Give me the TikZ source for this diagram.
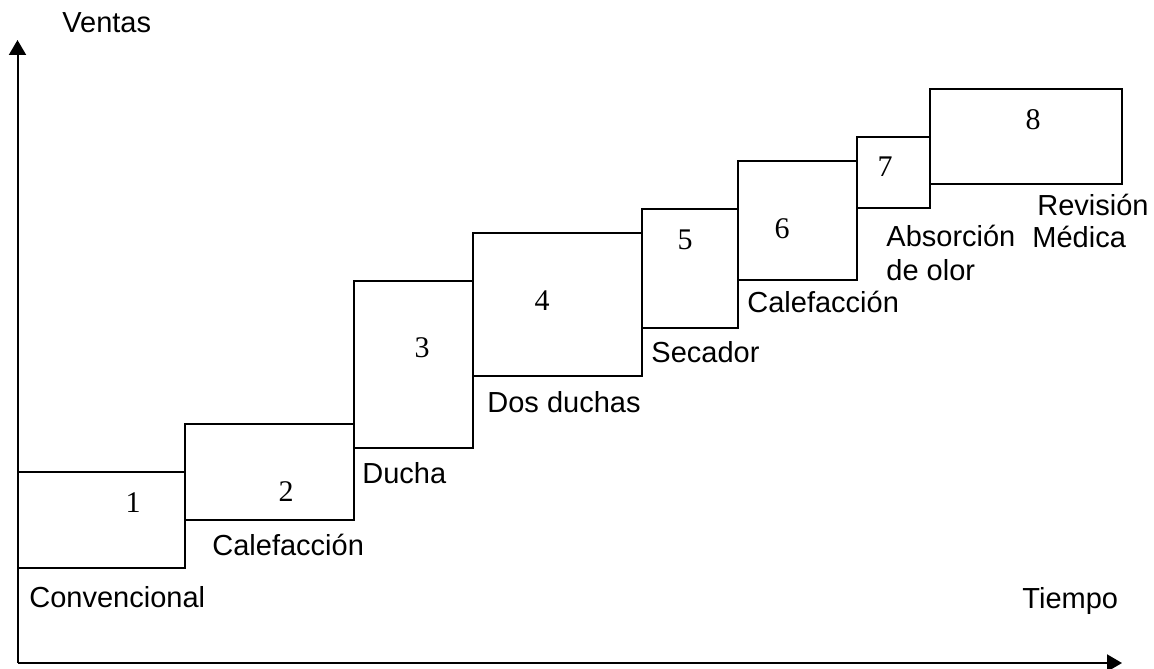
\documentclass[tikz,border=0pt]{standalone}
\usepackage{fontspec}
\setmainfont{Liberation Sans}
\newfontfamily\numfont{Liberation Serif}
\usetikzlibrary{arrows.meta}
\begin{document}
\begin{tikzpicture}[x=0.5pt,y=-0.5pt,
  stepbox/.style={draw=black,line width=1pt},
  axisline/.style={line width=1pt,-{Triangle[width=8.5pt,length=7.5pt]}},
  lbl/.style={anchor=base west,inner sep=0pt,font=\fontsize{14.5}{17}\selectfont},
  num/.style={anchor=center,inner sep=0pt,font=\numfont\fontsize{15}{18}\selectfont}]
\useasboundingbox (0,0) rectangle (1154,668);
% axes
\coordinate (O) at (17.5,663);
\coordinate (Ytip) at (17.5,40);
\coordinate (Xtip) at (1122,663);
\draw[axisline] (O) -- (Ytip);
\draw[axisline] (O) -- (Xtip);
% boxes
\draw[stepbox] (17.5,472) coordinate (b1a) rectangle (185,568) coordinate (b1b);
\draw[stepbox] (185,424) coordinate (b2a) rectangle (353.5,520) coordinate (b2b);
\draw[stepbox] (353.5,281) coordinate (b3a) rectangle (473,448) coordinate (b3b);
\draw[stepbox] (473,233) coordinate (b4a) rectangle (642,376) coordinate (b4b);
\draw[stepbox] (642,209) coordinate (b5a) rectangle (737.5,328) coordinate (b5b);
\draw[stepbox] (737.5,161) coordinate (b6a) rectangle (857,280) coordinate (b6b);
\draw[stepbox] (857,137) coordinate (b7a) rectangle (929.5,208) coordinate (b7b);
\draw[stepbox] (929.5,89) coordinate (b8a) rectangle (1122,184) coordinate (b8b);
% numbers
\node[num] (n1) at (133,503) {1};
\node[num] (n2) at (286,492) {2};
\node[num] (n3) at (422,348) {3};
\node[num] (n4) at (542,301) {4};
\node[num] (n5) at (685,240) {5};
\node[num] (n6) at (782,229) {6};
\node[num] (n7) at (885,167) {7};
\node[num] (n8) at (1033,120) {8};
% labels
\node[lbl] (ventas) at (62,33) {Ventas};
\node[lbl] (tiempo) at (1022,608) {Tiempo};
\node[lbl] (l1) at (29,607) {Convencional};
\node[lbl] (l2) at (212,555) {Calefacción};
\node[lbl] (l3) at (362,483) {Ducha};
\node[lbl] (l4) at (487,412) {Dos duchas};
\node[lbl] (l5) at (651,362) {Secador};
\node[lbl] (l6) at (747,312) {Calefacción};
\node[lbl] (l7a) at (886,246) {Absorción};
\node[lbl] (l7b) at (886,280) {de olor};
\node[lbl] (l8a) at (1037,215) {Revisión};
\node[lbl] (l8b) at (1032,247) {Médica};
\end{tikzpicture}
\end{document}
